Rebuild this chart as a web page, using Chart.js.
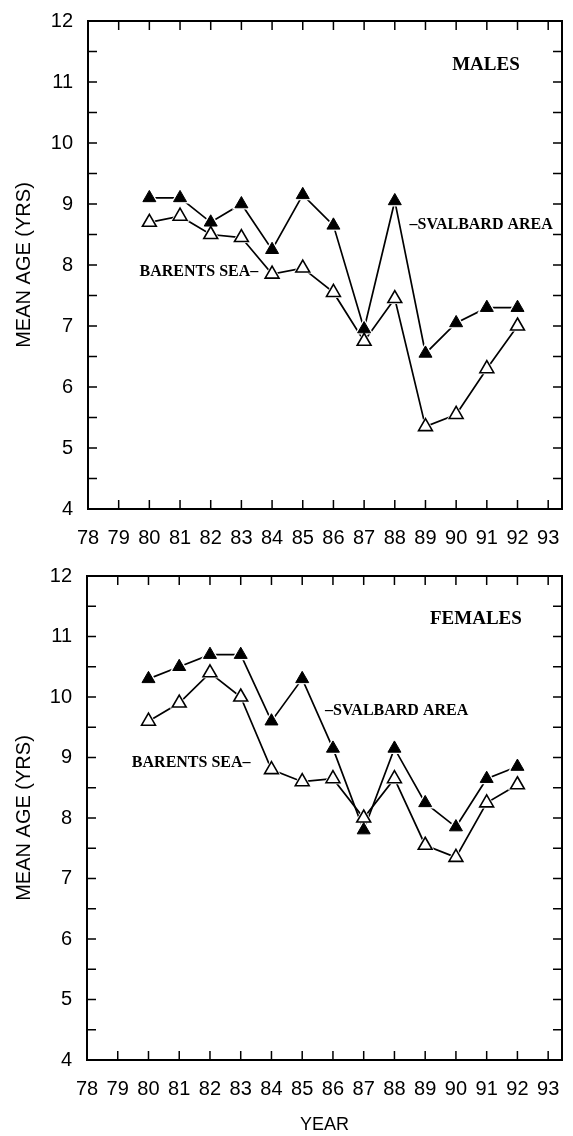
<!DOCTYPE html>
<html lang="en">
<head>
<meta charset="UTF-8">
<title>Mean age by year - males / females</title>
<script src="https://cdn.jsdelivr.net/npm/chart.js"></script>
<style>
body{margin:0;background:#fff;}
.wrap{position:relative;width:573px;height:1136px;}
.box{position:absolute;left:0;width:573px;}
#top{top:0;height:545px;}
#bot{top:545px;height:591px;}
</style>
</head>
<body>
<div class="wrap">
  <div class="box" id="top"><canvas id="maleChart"></canvas></div>
  <div class="box" id="bot"><canvas id="femaleChart"></canvas></div>
</div>
<script>
/* ── data ───────────────────────────────────────────────────────── */
const YEARS          =[80,81,82,83,84,85,86,87,88,89,90,91,92];
const MALE_SVALBARD  =[9.1,9.1,8.7,9.0,8.25,9.15,8.65,6.95,9.05,6.55,7.05,7.3,7.3];
const MALE_BARENTS   =[8.7,8.8,8.5,8.45,7.85,7.95,7.55,6.75,7.45,5.35,5.55,6.3,7.0];
const FEMALE_SVALBARD=[10.3,10.5,10.7,10.7,9.6,10.3,9.15,7.8,9.15,8.25,7.85,8.65,8.85];
const FEMALE_BARENTS =[9.6,9.9,10.4,10.0,8.8,8.6,8.65,8.0,8.65,7.55,7.35,8.25,8.55];

const X_TICKS=[78,79,80,81,82,83,84,85,86,87,88,89,90,91,92,93];
const Y_TICKS=[4,5,6,7,8,9,10,11,12];
const Y_MARKS=[4.5,5,5.5,6,6.5,7,7.5,8,8.5,9,9.5,10,10.5,11,11.5];

Chart.defaults.animation=false;
Chart.defaults.font.family="'Liberation Sans',Arial,sans-serif";
Chart.defaults.color="#000";

const TICK=9;
const pts=(ys)=>YEARS.map((x,i)=>({x,y:ys[i]}));

/* box + inward ticks on all four sides */
const frame={
  id:'frame',
  afterDatasetsDraw(c){
    const {ctx,chartArea:a,scales:{x,y}}=c;
    ctx.save();
    ctx.strokeStyle='#000';
    ctx.lineWidth=2;
    ctx.strokeRect(a.left,a.top,a.right-a.left,a.bottom-a.top);
    ctx.lineWidth=1.5;
    ctx.beginPath();
    X_TICKS.slice(1).forEach(v=>{
      const px=x.getPixelForValue(v);
      ctx.moveTo(px,a.bottom);ctx.lineTo(px,a.bottom-TICK);
      ctx.moveTo(px,a.top);ctx.lineTo(px,a.top+TICK);
    });
    Y_MARKS.forEach(v=>{
      const py=y.getPixelForValue(v);
      ctx.moveTo(a.left,py);ctx.lineTo(a.left+TICK,py);
      ctx.moveTo(a.right,py);ctx.lineTo(a.right-TICK,py);
    });
    ctx.stroke();
    ctx.restore();
  }
};

/* text labels placed in data units */
const notes={
  id:'notes',
  afterDraw(c,args,opts){
    const {ctx,scales:{x,y}}=c;
    ctx.save();
    ctx.fillStyle='#000';
    ctx.textBaseline='middle';
    (opts.items||[]).forEach(n=>{
      ctx.font=n.font;
      ctx.textAlign=n.align;
      ctx.fillText(n.text,x.getPixelForValue(n.x),y.getPixelForValue(n.y));
    });
    ctx.restore();
  }
};

function makeChart(id,svalbard,barents,cfg){
  const line=(d)=>({data:pts(d),showLine:true,borderColor:'#000',borderWidth:1.7,
                    pointRadius:0,pointHoverRadius:0,order:5});
  const halo=(d)=>({data:pts(d),showLine:false,pointStyle:'triangle',pointRadius:11,
                    pointBackgroundColor:'#fff',pointBorderWidth:0,pointBorderColor:'#fff',order:4});
  return new Chart(document.getElementById(id),{
    type:'scatter',
    data:{datasets:[
      line(svalbard),line(barents),
      halo(svalbard),halo(barents),
      {label:'Barents Sea',data:pts(barents),showLine:false,pointStyle:'triangle',pointRadius:8,
       pointBackgroundColor:'#fff',pointBorderColor:'#000',pointBorderWidth:1.6,order:2},
      {label:'Svalbard area',data:pts(svalbard),showLine:false,pointStyle:'triangle',pointRadius:7.5,
       pointBackgroundColor:'#000',pointBorderColor:'#000',pointBorderWidth:1,order:1}
    ]},
    options:{
      responsive:true,
      maintainAspectRatio:false,
      layout:{padding:{top:cfg.top,right:6,left:0,bottom:0}},
      scales:{
        x:{type:'linear',min:78,max:93.45,
           afterBuildTicks:s=>{s.ticks=X_TICKS.map(v=>({value:v}));},
           afterFit:s=>{s.height=cfg.xh;},
           grid:{display:false},border:{display:false},
           ticks:{font:{size:20},padding:9,maxRotation:0,autoSkip:false},
           title:{display:!!cfg.xTitle,text:cfg.xTitle||'',font:{size:18},padding:{top:0,bottom:0}}},
        y:{min:4,max:12,
           afterBuildTicks:s=>{s.ticks=Y_TICKS.map(v=>({value:v}));},
           afterFit:s=>{s.width=cfg.yw;},
           grid:{display:false},border:{display:false},
           ticks:{font:{size:20},padding:7},
           title:{display:true,text:'MEAN AGE (YRS)',font:{size:20},padding:{top:12,bottom:0}}}
      },
      plugins:{
        legend:{display:false},
        tooltip:{enabled:false},
        notes:{items:cfg.notes}
      }
    },
    plugins:[frame,notes]
  });
}

const BIG="bold 19px 'Liberation Serif','Times New Roman',serif";
const SMALL="bold 16px 'Liberation Serif','Times New Roman',serif";

makeChart('maleChart',MALE_SVALBARD,MALE_BARENTS,{
  top:21,xh:36,yw:88,
  notes:[
    {text:'MALES',x:90.97,y:11.28,align:'center',font:BIG},
    {text:'–SVALBARD AREA',x:88.48,y:8.66,align:'left',font:SMALL},
    {text:'BARENTS SEA–',x:83.55,y:7.89,align:'right',font:SMALL}
  ]
});

makeChart('femaleChart',FEMALE_SVALBARD,FEMALE_BARENTS,{
  top:31,xh:76,yw:87,xTitle:'YEAR',
  notes:[
    {text:'FEMALES',x:90.65,y:11.29,align:'center',font:BIG},
    {text:'–SVALBARD AREA',x:85.74,y:9.77,align:'left',font:SMALL},
    {text:'BARENTS SEA–',x:83.32,y:8.91,align:'right',font:SMALL}
  ]
});
</script>
</body>
</html>
